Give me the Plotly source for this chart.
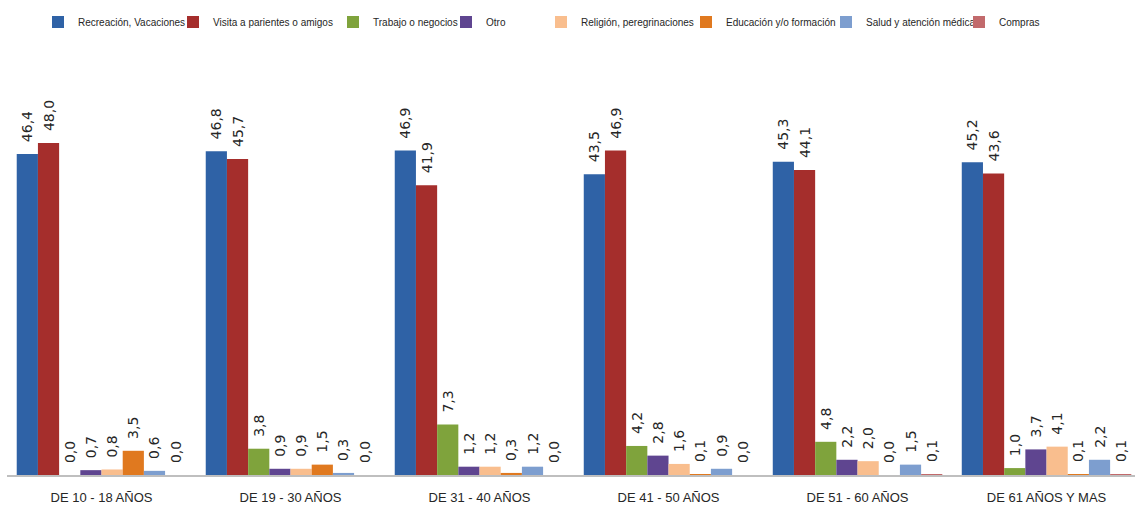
import plotly.graph_objects as go

# Grupos de edad
categorias = ["DE 10 - 18 AÑOS", "DE 19 - 30 AÑOS", "DE 31 - 40 AÑOS",
              "DE 41 - 50 AÑOS", "DE 51 - 60 AÑOS", "DE 61 AÑOS Y MAS"]

# Porcentaje por motivo de viaje
recreacion = [46.4, 46.8, 46.9, 43.5, 45.3, 45.2]
visita = [48.0, 45.7, 41.9, 46.9, 44.1, 43.6]
trabajo = [0.0, 3.8, 7.3, 4.2, 4.8, 1.0]
otro = [0.7, 0.9, 1.2, 2.8, 2.2, 3.7]
religion = [0.8, 0.9, 1.2, 1.6, 2.0, 4.1]
educacion = [3.5, 1.5, 0.3, 0.1, 0.0, 0.1]
salud = [0.6, 0.3, 1.2, 0.9, 1.5, 2.2]
compras = [0.0, 0.0, 0.0, 0.0, 0.1, 0.1]

series = [
    ("Recreación, Vacaciones", recreacion, "#2F62A6"),
    ("Visita a parientes o amigos", visita, "#A52E2C"),
    ("Trabajo o negocios", trabajo, "#7FA33C"),
    ("Otro", otro, "#5F4590"),
    ("Religión, peregrinaciones", religion, "#F9BE8E"),
    ("Educación y/o formación", educacion, "#E0791F"),
    ("Salud y atención médica", salud, "#7D9ECF"),
    ("Compras", compras, "#C26A6C"),
]

# Centro horizontal (px) del símbolo de cada entrada de la leyenda
legend_symbol_x = [58, 193, 353, 466, 561, 706, 846, 979]

W, H = 1135, 509
FONT = "Liberation Sans, Arial, sans-serif"
LABEL_FONT = "DejaVu Sans, Verdana, sans-serif"

fig = go.Figure()
layout_legends = {}
for i, (nombre, valores, color) in enumerate(series):
    key = "legend" if i == 0 else f"legend{i + 1}"
    fig.add_trace(go.Bar(
        name=nombre,
        x=categorias,
        y=valores,
        legend=key,
        marker=dict(color=color, line=dict(width=0)),
        texttemplate="\u00a0\u00a0%{y:.1f}",
        textposition="outside",
        textangle=-90,
        constraintext="none",
        cliponaxis=False,
        textfont=dict(family=LABEL_FONT, size=14, color="#262626"),
    ))
    layout_legends[key] = dict(
        orientation="h",
        xref="container", yref="container",
        x=(legend_symbol_x[i] - 20) / W, xanchor="left",
        y=1 - 22 / H, yanchor="middle",
        font=dict(family=FONT, size=10, color="#262626"),
        itemwidth=30,
        bgcolor="rgba(0,0,0,0)",
        borderwidth=0,
    )

fig.update_layout(
    width=W,
    height=H,
    barmode="group",
    bargap=0.103,
    bargroupgap=0,
    separators=",.",
    paper_bgcolor="white",
    plot_bgcolor="white",
    margin=dict(l=7, r=0, t=60, b=34),
    font=dict(family=FONT, size=13, color="#262626"),
    showlegend=True,
    xaxis=dict(
        range=[-0.5, 5.468],
        showgrid=False,
        showline=True,
        linecolor="#BFBFBF",
        linewidth=2,
        ticks="",
        ticklabelstandoff=9,
        tickfont=dict(family=FONT, size=13, color="#262626"),
    ),
    yaxis=dict(
        range=[0, 60],
        visible=False,
        showgrid=False,
        zeroline=False,
    ),
    **layout_legends,
)

fig.write_html("out.html")
